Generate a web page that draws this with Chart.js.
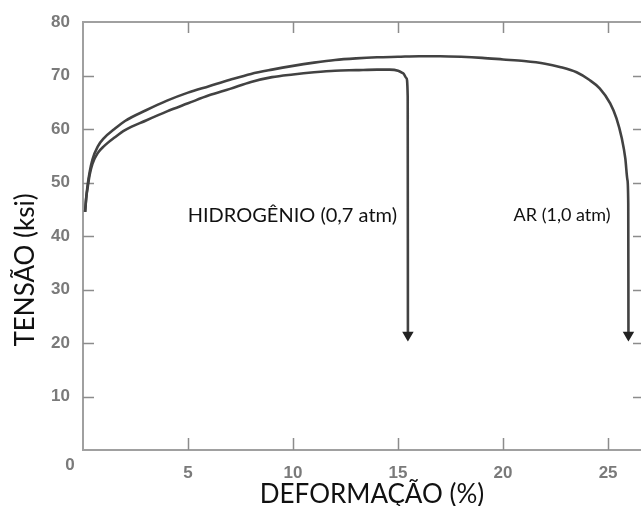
<!DOCTYPE html>
<html lang="pt">
<head>
<meta charset="utf-8">
<title>Tensão x Deformação</title>
<script src="https://cdn.jsdelivr.net/npm/chart.js@4/dist/chart.umd.min.js"></script>
<style>
  html, body { margin: 0; padding: 0; background: #fff; overflow: hidden; }
  #wrap { width: 660px; height: 506px; }
</style>
</head>
<body>
<div id="wrap"><canvas id="c" width="660" height="506"></canvas></div>
<script>
// Curva tensão-deformação em ar (1,0 atm)
const arStrain = [0.1, 0.15, 0.22, 0.32, 0.45, 0.7, 1, 1.5, 2, 3, 4, 5, 6, 7, 8, 9, 10, 11, 12, 13, 14, 15, 16, 17, 18, 19, 20, 21, 22, 22.7, 23.5, 24.1, 24.6, 25.1, 25.4, 25.65, 25.82, 25.92, 25.96, 25.97];
const arStress = [44.5, 47, 49.5, 52, 54.3, 56.7, 58.3, 60, 61.5, 63.5, 65.3, 66.8, 68, 69.2, 70.3, 71.1, 71.8, 72.4, 72.9, 73.2, 73.4, 73.5, 73.6, 73.6, 73.5, 73.3, 73, 72.7, 72.2, 71.6, 70.6, 69.2, 67.6, 64.8, 62, 58.3, 54.5, 50.5, 46, 21.5];

// Curva tensão-deformação em hidrogênio (0,7 atm)
const h2Strain = [0.1, 0.15, 0.22, 0.32, 0.45, 0.7, 1, 1.5, 2, 3, 4, 5, 6, 7, 8, 9, 10, 11, 12, 13, 14, 14.6, 15.0, 15.25, 15.4, 15.46, 15.47];
const h2Stress = [44.5, 47, 49, 51.5, 53.5, 55.5, 56.8, 58.4, 59.8, 61.6, 63.3, 64.8, 66.3, 67.5, 68.8, 69.7, 70.2, 70.6, 70.9, 71, 71.1, 71.1, 70.9, 70.4, 69.5, 66, 21.5];

// Marcas dos eixos
const xTickValues = [0, 5, 10, 15, 20, 25];
const yTickValues = [0, 10, 20, 30, 40, 50, 60, 70, 80];

// Rótulos das curvas (posição em coordenadas de dados)
const curveLabels = ['HIDROGÊNIO (0,7 atm)', 'AR (1,0 atm)'];
const curveLabelX = [14.95, 25.12];
const curveLabelY = [43.9, 43.9];

const xTitle = 'DEFORMAÇÃO (%)';
const yTitle = 'TENSÃO (ksi)';
const xMax = 26.71;
const yMax = 80;

const toPoints = (xs, ys) => xs.map((v, i) => ({ x: v, y: ys[i] }));
const toTicks = vals => vals.map(v => ({ value: v }));

const tickFamily = '"Liberation Sans", Arial, sans-serif';
const tickColor = '#7a7a7a';
const axisColor = '#a0a0a0';

// Moldura com marcas de escala voltadas para dentro e textos
const framePlugin = {
  id: 'frame',
  beforeDatasetsDraw(chart) {
    const { ctx, chartArea: a, scales: { x, y } } = chart;
    ctx.save();
    ctx.strokeStyle = axisColor;
    ctx.lineWidth = 2;
    ctx.strokeRect(a.left, a.top, a.right - a.left, a.bottom - a.top);
    ctx.strokeStyle = '#8c8c8c';
    ctx.lineWidth = 1.5;
    ctx.beginPath();
    y.ticks.forEach(t => {
      if (t.value > 0 && t.value < yMax) {
        const py = Math.round(y.getPixelForValue(t.value)) + 0.5;
        ctx.moveTo(a.left, py); ctx.lineTo(a.left + 11, py);
        ctx.moveTo(a.right, py); ctx.lineTo(a.right - 11, py);
      }
    });
    x.ticks.forEach(t => {
      if (t.value > 0) {
        const px = Math.round(x.getPixelForValue(t.value)) + 0.5;
        ctx.moveTo(px, a.bottom); ctx.lineTo(px, a.bottom - 12);
        ctx.moveTo(px, a.top); ctx.lineTo(px, a.top + 11);
      }
    });
    ctx.stroke();
    ctx.restore();
  },
  afterDraw(chart) {
    const { ctx, chartArea: a, scales: { x, y } } = chart;
    ctx.save();
    // origem "0"
    ctx.font = 'bold 17px ' + tickFamily;
    ctx.fillStyle = tickColor;
    ctx.textAlign = 'center';
    ctx.textBaseline = 'middle';
    ctx.fillText('0', x.getPixelForValue(0) - 13, a.bottom + 15);

    // rótulos das curvas
    ctx.fillStyle = '#111';
    ctx.textAlign = 'right';
    ctx.font = '20px Lato, "Open Sans", sans-serif';
    ctx.fillText(curveLabels[0], x.getPixelForValue(curveLabelX[0]), y.getPixelForValue(curveLabelY[0]));
    ctx.font = '18px Lato, "Open Sans", sans-serif';
    ctx.fillText(curveLabels[1], x.getPixelForValue(curveLabelX[1]), y.getPixelForValue(curveLabelY[1]));

    // títulos dos eixos
    ctx.font = '26px Lato, "Open Sans", sans-serif';
    ctx.textAlign = 'center';
    ctx.fillText(xTitle, 372, 495);
    ctx.translate(26, 270);
    ctx.rotate(-Math.PI / 2);
    ctx.fillText(yTitle, 0, 0);
    ctx.restore();
  }
};

const lastIdxRadius = (ctx) => (ctx.dataIndex === ctx.dataset.data.length - 1 ? 4 : 0);

const curveStyle = {
  borderColor: '#424242',
  borderWidth: 2.6,
  cubicInterpolationMode: 'monotone',
  pointRadius: lastIdxRadius,
  pointStyle: 'triangle',
  rotation: 180,
  pointBackgroundColor: '#222',
  pointBorderColor: '#222',
  fill: false
};

new Chart(document.getElementById('c'), {
  type: 'line',
  data: {
    datasets: [
      Object.assign({ label: 'AR (1,0 atm)', data: toPoints(arStrain, arStress) }, curveStyle),
      Object.assign({ label: 'HIDROGÊNIO (0,7 atm)', data: toPoints(h2Strain, h2Stress) }, curveStyle)
    ]
  },
  options: {
    responsive: false,
    animation: false,
    devicePixelRatio: 1,
    layout: { padding: { left: 0, right: 16, top: 22, bottom: 0 } },
    plugins: { legend: { display: false }, tooltip: { enabled: false } },
    scales: {
      x: {
        type: 'linear',
        min: 0,
        max: xMax,
        grid: { display: false },
        border: { display: false },
        afterBuildTicks: s => { s.ticks = toTicks(xTickValues); },
        ticks: {
          padding: 5,
          color: tickColor,
          font: { family: tickFamily, size: 17, weight: 'bold' },
          maxRotation: 0,
          autoSkip: false,
          callback: v => (v > 0 ? String(v) : '')
        },
        afterFit: s => { s.height = 56; }
      },
      y: {
        min: 0,
        max: yMax,
        grid: { display: false },
        border: { display: false },
        afterBuildTicks: s => { s.ticks = toTicks(yTickValues); },
        ticks: {
          padding: 5,
          color: tickColor,
          font: { family: tickFamily, size: 17, weight: 'bold' },
          callback: v => (v > 0 ? String(v) : '')
        },
        afterFit: s => { s.width = 83; }
      }
    }
  },
  plugins: [framePlugin]
});
</script>
</body>
</html>
